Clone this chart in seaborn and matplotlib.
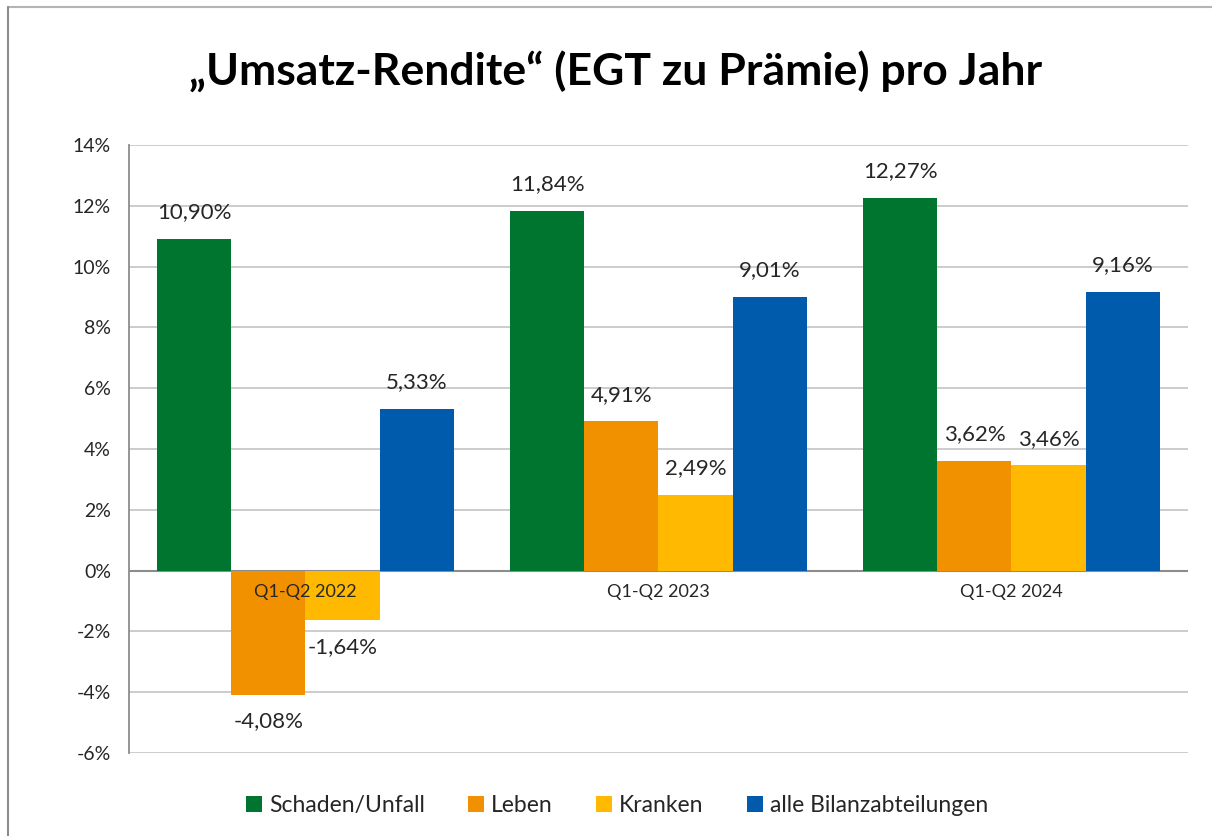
import pandas as pd
import matplotlib.pyplot as plt
import seaborn as sns
from matplotlib.lines import Line2D

# chart data
perioden = ["Q1-Q2 2022", "Q1-Q2 2023", "Q1-Q2 2024"]
sparten = ["Schaden/Unfall", "Leben", "Kranken", "alle Bilanzabteilungen"]
schaden_unfall = [10.90, 11.84, 12.27]
leben = [-4.08, 4.91, 3.62]
kranken = [-1.64, 2.49, 3.46]
alle = [5.33, 9.01, 9.16]
y_ticks = [-6, -4, -2, 0, 2, 4, 6, 8, 10, 12, 14]

farben = ["#00752F", "#F29100", "#FFB900", "#005BAC"]

rows = []
for name, werte in zip(sparten, [schaden_unfall, leben, kranken, alle]):
    for p, w in zip(perioden, werte):
        rows.append({"Periode": p, "Sparte": name, "Wert": w})
df = pd.DataFrame(rows)

sns.set_style("white")
plt.rcParams["font.family"] = ["Lato", "DejaVu Sans"]

fig = plt.figure(figsize=(12.12, 8.36), dpi=100)
ax = fig.add_axes([0.1064, 0.0993, 0.8738, 0.7273])

sns.barplot(data=df, x="Periode", y="Wert", hue="Sparte", order=perioden,
            hue_order=sparten, palette=farben, width=0.84, saturation=1,
            linewidth=0, ax=ax, legend=True)

ax.set_ylim(-6, 14)
ax.set_xlim(-0.5, 2.5)
ax.set_yticks(y_ticks)
ax.set_yticklabels([f"{t}%" for t in y_ticks], fontsize=14)
ax.tick_params(axis="y", length=0, pad=13)
ax.set_xticks([])
ax.set_xlabel("")
ax.set_ylabel("")
ax.set_axisbelow(True)
ax.grid(axis="y", color="#C8C8C8", linewidth=1.3)

for s in ["top", "right", "bottom"]:
    ax.spines[s].set_visible(False)
ax.spines["left"].set_color("#8C8C8C")
ax.spines["left"].set_linewidth(1.3)
ax.axhline(0, color="#8C8C8C", linewidth=1.5, zorder=0.8)

# value labels
for cont in ax.containers:
    labels = [f"{v:.2f}%".replace(".", ",") for v in cont.datavalues]
    ax.bar_label(cont, labels=labels, padding=12, fontsize=16)

# category labels just below zero line
for i, p in enumerate(perioden):
    ax.annotate(p, (i, 0), xytext=(0, -10), textcoords="offset points",
                ha="center", va="top", fontsize=13, zorder=5)

fig.suptitle("\u201eUmsatz-Rendite\u201c (EGT zu Prämie) pro Jahr",
             fontsize=32, fontweight="bold", y=0.94, x=0.508, color="black")

leg = ax.legend(loc="upper center", bbox_to_anchor=(0.461, -0.035), ncol=4,
                frameon=False, fontsize=16.5, handlelength=0.7,
                handleheight=0.7, handletextpad=0.3, columnspacing=1.9)

# figure border (top and left)
fig.add_artist(Line2D([0.0066, 1.0], [0.9916, 0.9916], color="#B4B4B4",
                      linewidth=1.5, transform=fig.transFigure))
fig.add_artist(Line2D([0.0066, 0.0066], [0.0, 0.9916], color="#8C8C8C",
                      linewidth=1.5, transform=fig.transFigure))

fig.savefig("out.png", dpi=100)
